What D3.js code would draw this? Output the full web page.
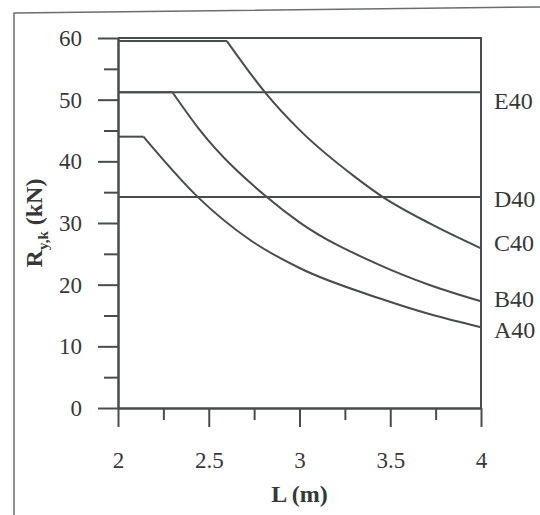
<!DOCTYPE html>
<html>
<head>
<meta charset="utf-8">
<script src="https://cdn.jsdelivr.net/npm/d3@7"></script>
<style>
  body { margin: 0; background: #fff; }
  svg { display: block; }
  text { font-family: "Liberation Serif", "DejaVu Serif", serif; fill: #363838; }
</style>
</head>
<body>
<svg id="chart" width="540" height="515"></svg>
<script>
// values (L in m, R in kN)
const xMajor = [2, 2.5, 3, 3.5, 4];
const xMinor = [2.25, 2.75, 3.25, 3.75];
const yMajor = [0, 10, 20, 30, 40, 50, 60];
const yMinor = [5, 15, 25, 35, 45, 55];

// horizontal capacity lines
const levelNames = ["E40", "D40"];
const levelValues = [51.2, 34.2];

// curves: first two points form the flat part, then the decay
const cL = [2, 2.6, 2.81, 3.0, 3.3, 3.46, 3.72, 4];
const cR = [59.5, 59.5, 51.2, 45.1, 37.6, 34.2, 29.9, 25.9];
const bL = [2, 2.3, 2.45, 2.82, 3.0, 3.44, 3.72, 4];
const bR = [51.2, 51.2, 45.1, 34.2, 30.1, 23.2, 19.9, 17.3];
const aL = [2, 2.14, 2.44, 2.73, 3.0, 3.44, 3.72, 4];
const aR = [44.0, 44.0, 34.2, 27.2, 22.7, 17.8, 15.2, 13.1];

const curveNames = ["C40", "B40", "A40"];
const curves = [[cL, cR], [bL, bR], [aL, aR]];

const ink = "#474c4c";
const lw = 2;
const svg = d3.select("#chart");

// outer frame (top and left only, as scanned)
svg.append("path")
    .attr("d", "M14,515 L14,13 L540,7")
    .attr("fill", "none")
    .attr("stroke", "#6a6e6e")
    .attr("stroke-width", 1.5);

const x = d3.scaleLinear().domain([2, 4]).range([118, 481]);
const y = d3.scaleLinear().domain([0, 60]).range([408, 38]);

// y axis
svg.append("g")
    .attr("transform", `translate(${x(2)},0)`)
    .call(d3.axisLeft(y).tickValues(yMajor).tickSize(20).tickSizeOuter(0).tickPadding(16));
svg.append("g")
    .attr("transform", `translate(${x(2)},0)`)
    .call(d3.axisLeft(y).tickValues(yMinor).tickSize(14).tickSizeOuter(0).tickFormat(""));

// x axis
svg.append("g")
    .attr("transform", `translate(0,${y(0)})`)
    .call(d3.axisBottom(x).tickValues(xMajor).tickSize(19).tickSizeOuter(0).tickPadding(25)
        .tickFormat(d3.format("")));
svg.append("g")
    .attr("transform", `translate(0,${y(0)})`)
    .call(d3.axisBottom(x).tickValues(xMinor).tickSize(12).tickSizeOuter(0).tickFormat(""));

svg.selectAll(".domain, .tick line")
    .attr("stroke", ink)
    .attr("stroke-width", lw);
svg.selectAll(".tick text")
    .attr("font-size", 23)
    .attr("font-family", "Liberation Serif, serif")
    .attr("fill", "#363838");

// top and right frame of plot
svg.append("path")
    .attr("d", `M${x(2)},${y(60)} L${x(4)},${y(60)} L${x(4)},${y(0)}`)
    .attr("fill", "none")
    .attr("stroke", ink)
    .attr("stroke-width", lw);

// horizontal levels
svg.selectAll(".level")
    .data(levelValues)
    .join("line")
    .attr("class", "level")
    .attr("x1", x(2)).attr("x2", x(4))
    .attr("y1", d => y(d)).attr("y2", d => y(d))
    .attr("stroke", ink)
    .attr("stroke-width", lw);

// curves
const flat = d3.line().x(d => x(d[0])).y(d => y(d[1]));
const decay = d3.line().x(d => x(d[0])).y(d => y(d[1])).curve(d3.curveMonotoneX);

curves.forEach(([ls, rs]) => {
    const pts = ls.map((l, i) => [l, rs[i]]);
    svg.append("path")
        .attr("d", flat(pts.slice(0, 2)))
        .attr("fill", "none").attr("stroke", ink).attr("stroke-width", lw);
    svg.append("path")
        .attr("d", decay(pts.slice(1)))
        .attr("fill", "none").attr("stroke", ink).attr("stroke-width", lw);
});

// series labels on the right, nudged like the original
const labels = levelNames.concat(curveNames);
const labelAt = levelValues.concat(curves.map(([, rs]) => rs[rs.length - 1]));
const labelNudge = [9, 2, -5, -2, 3];
svg.selectAll(".lab")
    .data(labels)
    .join("text")
    .attr("class", "lab")
    .attr("x", 494)
    .attr("y", (d, i) => y(labelAt[i]) + labelNudge[i] + 8)
    .attr("font-size", 24)
    .text(d => d);

// axis titles
svg.append("text")
    .attr("x", x(3))
    .attr("y", 502)
    .attr("text-anchor", "middle")
    .attr("font-size", 24)
    .attr("font-weight", "bold")
    .text("L (m)");

const yt = svg.append("text")
    .attr("transform", `translate(42,${y(30)}) rotate(-90)`)
    .attr("text-anchor", "middle")
    .attr("font-size", 24)
    .attr("font-weight", "bold");
yt.append("tspan").text("R");
yt.append("tspan").attr("font-size", 15).attr("dy", 6).text("y,k");
yt.append("tspan").attr("dy", -6).text(" (kN)");
</script>
</body>
</html>
